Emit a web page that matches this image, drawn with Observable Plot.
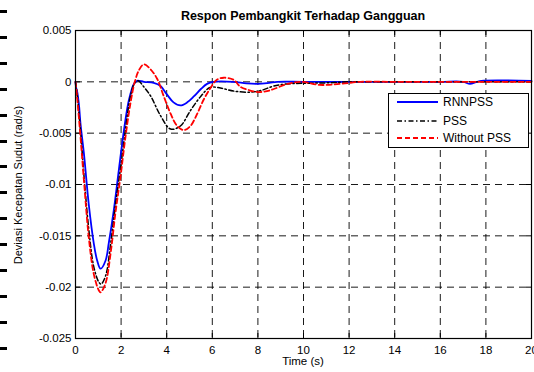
<!DOCTYPE html>
<html>
<head>
<meta charset="utf-8">
<script src="https://cdn.jsdelivr.net/npm/d3@7"></script>
<script src="https://cdn.jsdelivr.net/npm/@observablehq/plot@0.6"></script>
<style>
  html, body { margin: 0; padding: 0; background: #fff; overflow: hidden; }
  #wrap { position: relative; width: 534px; height: 372px; font-family: "Liberation Sans", Arial, sans-serif; color: #000; }
  #chart { position: absolute; left: 0; top: 0; }
  .title { position: absolute; left: 75px; width: 456px; top: 9px; text-align: center; font-weight: bold; font-size: 12.5px; line-height: 14px; }
  .xlabel { position: absolute; left: 75px; width: 456px; top: 355px; text-align: center; font-size: 11.5px; line-height: 13px; }
  .ylabel { position: absolute; left: 18px; top: 185px; transform: translate(-50%, -50%) rotate(-90deg); white-space: nowrap; font-size: 11px; line-height: 13px; }
  .marks { position: absolute; left: 0; top: 10px; width: 7px; height: 342px;
    background: repeating-linear-gradient(to bottom, #000 0px, #000 3px, transparent 3px, transparent 25.9px); }
  .legend { position: absolute; left: 388px; top: 93px; width: 141px; height: 55px; background: #fff; border: 1px solid #000; box-sizing: border-box; font-size: 12px; }
  .legend .row { position: absolute; left: 8px; height: 14px; display: flex; align-items: center; }
  .legend svg { margin-right: 5px; }
</style>
</head>
<body>
<div id="wrap">
  <div class="marks"></div>
  <div id="chart"></div>
  <div class="title">Respon Pembangkit Terhadap Gangguan</div>
  <div class="xlabel">Time (s)</div>
  <div class="ylabel">Deviasi Kecepatan Sudut (rad/s)</div>
  <div class="legend" id="legend"></div>
</div>
<script>
// ---- data ----
const seriesNames = ["RNNPSS", "PSS", "Without PSS"];
const seriesColors = ["#0000ff", "#000000", "#ff0000"];
const seriesDash = [null, "5,2.5,1.5,2.5", "5,3"];
const seriesWidth = [1.8, 1.5, 1.8];

const tRNN = [0, 0.03, 0.07, 0.15, 0.22, 0.37, 0.58, 0.8, 0.95, 1.1, 1.32, 1.46, 1.68, 1.9, 2.12, 2.34, 2.56, 2.7, 3.0, 3.43, 3.73, 4.0, 4.3, 4.6, 4.9, 5.2, 5.5, 5.77, 6.05, 6.9, 7.5, 8.0, 8.5, 8.85, 10, 12, 14, 16, 17.0, 17.3, 17.6, 17.8, 20];
const vRNN = [0, -0.0006, -0.0009, -0.0022, -0.0041, -0.007, -0.0119, -0.0157, -0.0174, -0.0182, -0.0174, -0.0157, -0.0125, -0.0086, -0.0048, -0.0018, -0.0002, 0.0001, 0, -0.0001, -0.0004, -0.0012, -0.002, -0.0023, -0.002, -0.0014, -0.0007, -0.0002, 0, 0, -0.00015, -0.0002, -0.0001, 0, 0, 0, 0, 0, 0, -0.0002, 0, 0.0001, 0.0001];

const tPSS = [0, 0.07, 0.22, 0.37, 0.58, 0.8, 1.02, 1.12, 1.32, 1.54, 1.75, 1.97, 2.19, 2.41, 2.6, 2.75, 3.0, 3.3, 3.73, 4.17, 4.6, 5.04, 5.5, 5.9, 6.36, 6.93, 7.7, 8.2, 8.7, 9.3, 9.9, 11, 12, 14, 16, 18, 20];
const vPSS = [0, -0.0012, -0.0048, -0.0091, -0.0143, -0.018, -0.0195, -0.0197, -0.0189, -0.0158, -0.012, -0.0085, -0.0047, -0.0014, -0.0001, 0.0001, -0.0005, -0.0014, -0.0033, -0.0046, -0.0043, -0.0028, -0.0014, -0.00055, -0.0006, -0.0009, -0.001, -0.0008, -0.0004, -0.0002, -0.00015, -0.0001, 0, 0, 0, 0, 0];

const tWO = [0, 0.07, 0.22, 0.37, 0.58, 0.8, 1.02, 1.1, 1.32, 1.54, 1.75, 1.97, 2.19, 2.41, 2.6, 2.8, 3.0, 3.3, 3.58, 3.87, 4.17, 4.46, 4.75, 5.04, 5.34, 5.63, 5.92, 6.2, 6.5, 6.93, 7.24, 7.6, 8.0, 8.4, 8.7, 9.3, 9.9, 10.7, 11.6, 12.5, 14, 16, 18, 20];
const vWO = [0, -0.0015, -0.0054, -0.0096, -0.0151, -0.0187, -0.0203, -0.0205, -0.0196, -0.0167, -0.0128, -0.0093, -0.0054, -0.0021, 0, 0.0012, 0.0017, 0.0012, 0.0003, -0.0014, -0.0031, -0.0043, -0.0047, -0.0043, -0.0031, -0.0017, -0.0006, 0.0002, 0.0004, 0.0002, -0.0005, -0.0008, -0.001, -0.0009, -0.0007, -0.0002, 0, -0.0003, -0.0002, 0, 0, 0, 0, 0];

const xTicks = [0, 2, 4, 6, 8, 10, 12, 14, 16, 18, 20];
const yTicks = [-0.025, -0.02, -0.015, -0.01, -0.005, 0, 0.005];
const yTickLabels = ["-0.025", "-0.02", "-0.015", "-0.01", "-0.005", "0", "0.005"];
const xGrid = [2, 4, 6, 8, 10, 12, 14, 16, 18];
const yGrid = [-0.02, -0.015, -0.01, -0.005, 0];

// ---- build ----
const W = 534, H = 372, mT = 30, mB = 34, mL = 75, mR = 3;
const innerH = H - mT - mB, innerW = W - mL - mR;
const toRows = (ts, vs) => ts.map((t, i) => ({t, v: vs[i]}));
const series = [toRows(tRNN, vRNN), toRows(tPSS, vPSS), toRows(tWO, vWO)];

const lineMarks = series.map((rows, i) => Plot.line(rows, {
  x: "t", y: "v", curve: "catmull-rom",
  stroke: seriesColors[i], strokeWidth: seriesWidth[i],
  strokeDasharray: seriesDash[i] || undefined
}));

const plot = Plot.plot({
  width: W, height: H,
  marginTop: mT, marginBottom: mB, marginLeft: mL, marginRight: mR,
  style: {fontFamily: "'Liberation Sans', Arial, sans-serif", fontSize: "11.5px", background: "transparent", overflow: "visible"},
  x: {domain: [0, 20], ticks: xTicks, tickSize: 0, tickPadding: 7, label: null},
  y: {domain: [-0.025, 0.005], ticks: yTicks, tickSize: 0, tickPadding: 4, label: null,
      tickFormat: d => yTickLabels[yTicks.indexOf(d)]},
  marks: [
    Plot.ruleX(xGrid, {stroke: "#000", strokeWidth: 0.9, strokeDasharray: "7,5"}),
    Plot.ruleY(yGrid, {stroke: "#000", strokeWidth: 0.9, strokeDasharray: "7,5"}),
    Plot.tickX(xTicks, {x: d => d, stroke: "#000", insetTop: innerH - 5}),
    Plot.tickX(xTicks, {x: d => d, stroke: "#000", insetBottom: innerH - 5}),
    Plot.tickY(yTicks, {y: d => d, stroke: "#000", insetRight: innerW - 5}),
    Plot.tickY(yTicks, {y: d => d, stroke: "#000", insetLeft: innerW - 5}),
    ...lineMarks,
    Plot.frame({stroke: "#000", strokeWidth: 1.2})
  ]
});
document.getElementById("chart").appendChild(plot);

// legend
const legend = document.getElementById("legend");
const rowTops = [1, 20, 37];
seriesNames.forEach((name, i) => {
  const row = document.createElement("div");
  row.className = "row";
  row.style.top = rowTops[i] + "px";
  const dash = seriesDash[i] ? ` stroke-dasharray="${seriesDash[i]}"` : "";
  row.innerHTML = `<svg width="41" height="6"><line x1="0" x2="41" y1="3" y2="3" stroke="${seriesColors[i]}" stroke-width="${seriesWidth[i]}"${dash}/></svg><span>${name}</span>`;
  legend.appendChild(row);
});
</script>
</body>
</html>
